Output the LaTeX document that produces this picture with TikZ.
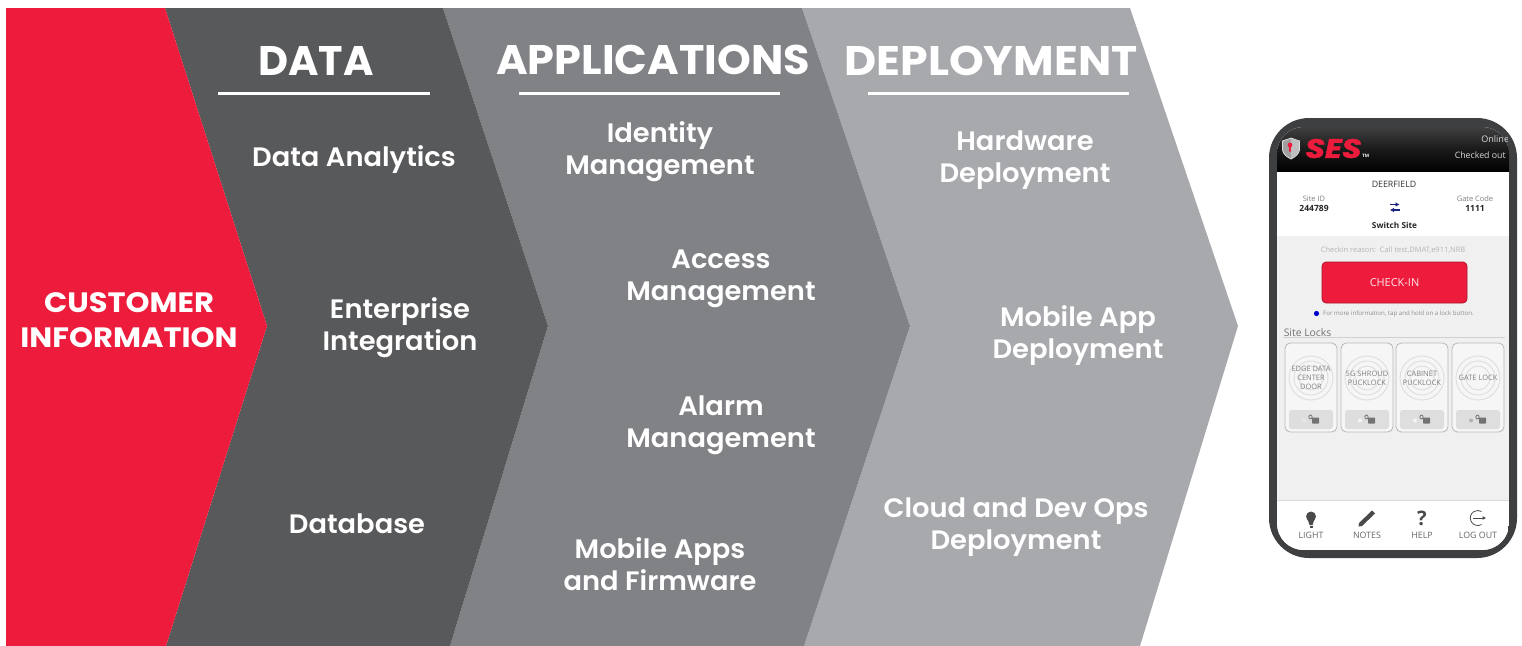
\documentclass[tikz,border=0pt]{standalone}
\usepackage{fontspec}
\usetikzlibrary{arrows.meta}
\setmainfont{Open Sans}
\newfontfamily\headfont{Poppins Bold}
\newfontfamily\bodyfont{Poppins SemiBold}
\newfontfamily\logofont{Poppins}[ItalicFont=* Bold Italic,ItalicFeatures={FakeBold=1.5}]
\definecolor{cred}{HTML}{ED1C3C}
\definecolor{cdark}{HTML}{58595B}
\definecolor{cmid}{HTML}{808285}
\definecolor{clight}{HTML}{A7A9AC}
\definecolor{phonerim}{HTML}{3E3F41}
\definecolor{screengray}{HTML}{F0F0F0}
\definecolor{faint}{HTML}{B4B4B4}
\definecolor{iconcol}{HTML}{4A4A4A}
\definecolor{swapblue}{HTML}{1A237E}
\tikzset{
  head/.style={text=white,font=\headfont\fontsize{31}{34}\selectfont,inner sep=0pt},
  body/.style={text=white,font=\bodyfont\fontsize{20}{24}\selectfont,align=center,inner sep=0pt,xscale=1.025},
  lead/.style={text=white,font=\headfont\fontsize{21}{26}\selectfont,align=center,inner sep=0pt,xscale=1.09},
  rulewhite/.style={draw=white,line width=1.9pt},
  ui/.style={inner sep=0pt,align=center},
  lockcap/.style={ui,text=black!50,font=\fontsize{5.6}{6.8}\selectfont},
  tabcap/.style={ui,text=iconcol!85,font=\fontsize{6.6}{8}\selectfont},
}
\begin{document}
\begin{tikzpicture}[x=0.75pt,y=-0.75pt]
\useasboundingbox (0,0) rectangle (1522,646);
% chevrons
\fill[clight] (802,8)--(1130,8)--(1238,326)--(1140,646)--(804,646)--(910,326)--cycle;
\fill[cmid] (443,8)--(802,8)--(910,326)--(804,646)--(450,646)--(548,326)--cycle;
\fill[cdark] (165,8)--(443,8)--(548,326)--(450,646)--(166,646)--(267,326)--cycle;
\fill[cred] (6,8)--(165,8)--(267,326)--(166,646)--(6,646)--cycle;
% headings
\node[head] (hdata) at (316,61) {DATA};
\node[head,xscale=1.04] (happs) at (653,60) {APPLICATIONS};
\node[head,xscale=1.07] (hdep) at (991,61) {DEPLOYMENT};
\draw[rulewhite] (218,93.5)--(430,93.5);
\draw[rulewhite] (519,93.5)--(780,93.5);
\draw[rulewhite] (868,93.5)--(1129,93.5);
\node[lead] (cust) at (129,320) {CUSTOMER\\INFORMATION};
% column texts
\node[body] (d1) at (354,160) {Data Analytics};
\node[body] (d2) at (400,328) {Enterprise\\Integration};
\node[body] (d3) at (357,524) {Database};
\node[body] (a1) at (660,152) {Identity\\Management};
\node[body] (a2) at (721,279) {Access\\Management};
\node[body] (a3) at (721,425) {Alarm\\Management};
\node[body] (a4) at (660,564) {Mobile Apps\\and Firmware};
\node[body] (p1) at (1025,160) {Hardware\\Deployment};
\node[body] (p2) at (1078,336) {Mobile App\\Deployment};
\node[body] (p3) at (1016,527) {Cloud and Dev Ops\\Deployment};
% phone
\fill[phonerim,rounded corners=30] (1269,118) rectangle (1517,558);
\begin{scope}
\path[clip,rounded corners=20] (1277,127) rectangle (1509,550);
\fill[screengray] (1277,127) rectangle (1509,550);
\shade[top color=black!75,bottom color=black,middle color=black!90] (1277,127) rectangle (1509,172);
\fill[white] (1277,172) rectangle (1509,236);
\fill[white] (1277,500) rectangle (1509,550);
\draw[black!15,line width=0.5pt] (1277,500)--(1509,500);
\end{scope}
% shield logo
\fill[gray!75,draw=gray!25,line width=0.6pt] (1282.5,141) .. controls (1286,140) and (1288,139) .. (1291,138) .. controls (1294,139) and (1296,140) .. (1299.5,141) -- (1299.5,150) .. controls (1299,154) and (1295,157) .. (1291,159) .. controls (1287,157) and (1283,154) .. (1282.5,150) -- cycle;
\fill[black!25] (1291,138.8) .. controls (1294,139.6) and (1296,140.6) .. (1298.8,141.5) -- (1298.8,150) .. controls (1298.4,153.6) and (1295,156.4) .. (1291,158.2) -- cycle;
\fill[cred] (1290,145) circle[radius=2.4];
\fill[cred] (1289.2,146)--(1290.8,146)--(1291,151.5)--(1289,151.5)--cycle;
\node[ui,text=cred,font=\logofont\itshape\fontsize{20}{20}\selectfont,xscale=1.18] (logo) at (1333.5,148.5) {SES};
\node[ui,text=white,font=\bfseries\fontsize{3.4}{4}\selectfont,anchor=west] (tm) at (1362,156) {TM};
\begin{scope}
\clip (1470,130) rectangle (1507,146);
\node[ui,text=white!85!black,anchor=west,font=\fontsize{6.8}{8}\selectfont] (online) at (1481,139) {Online};
\end{scope}
\node[ui,text=white!85!black,anchor=east,font=\fontsize{6.6}{8}\selectfont] (checked) at (1506,155) {Checked out};
% site info
\node[ui,text=black!80,font=\fontsize{6.6}{8}\selectfont] (site) at (1394,184) {DEERFIELD};
\node[ui,text=gray,font=\fontsize{5.6}{7}\selectfont] (sidl) at (1314,199) {Site ID};
\node[ui,text=black!85,font=\bfseries\fontsize{6.4}{7}\selectfont] (sidv) at (1314,208) {244789};
\node[ui,text=gray,font=\fontsize{5.6}{7}\selectfont] (gcl) at (1475,199) {Gate Code};
\node[ui,text=black!85,font=\bfseries\fontsize{6.4}{7}\selectfont] (gcv) at (1475,208) {1111};
\draw[swapblue,line width=1pt,-{Latex[length=3pt,width=3.6pt]}] (1390,204.5)--(1399.5,204.5);
\draw[swapblue,line width=1pt,-{Latex[length=3pt,width=3.6pt]}] (1399.5,210)--(1390,210);
\node[ui,text=black!85,font=\bfseries\fontsize{6.2}{7}\selectfont] (switch) at (1394.5,225) {Switch Site};
% check-in
\node[ui,text=faint,font=\fontsize{5.6}{7}\selectfont] (reason) at (1393,250) {Checkin reason:\ \ Call test,DMAT,e911,NRB};
\node[draw=cred!70!black,line width=0.5pt,fill=cred,rounded corners=3,minimum width=108.75pt,minimum height=30.75pt,inner sep=0pt,text=white!90!cred,font=\fontsize{8.2}{10}\selectfont] (checkin) at (1394.5,282.5) {CHECK-IN};
\fill[blue!80!black] (1316.5,313.5) circle[radius=2.6];
\node[ui,text=gray!90,font=\fontsize{4.6}{6}\selectfont] (info) at (1398.5,313.5) {For more information, tap and hold on a lock button.};
\node[ui,text=gray!90!black,anchor=west,font=\fontsize{7.8}{9}\selectfont] (locks) at (1283.5,333) {Site Locks};
\draw[black!18,line width=0.5pt] (1283,337.5)--(1505,337.5);
% lock cards
\foreach \n/\cx/\dot/\lab in {1/1311/9/{EDGE DATA\\CENTER\\DOOR},2/1367/4/{5G SHROUD\\PUCKLOCK},3/1422/4/{CABINET\\PUCKLOCK},4/1478/30/{GATE LOCK}}{
  \draw[black!28,fill=screengray!60!white,rounded corners=4,line width=0.6pt] (\cx-26,343) rectangle (\cx+26,432);
  \foreach \r in {22,17,12}{\draw[black!12,line width=0.8pt] (\cx,378) circle[radius=\r];}
  \node[lockcap] (card\n) at (\cx,378) {\lab};
  \fill[black!13,rounded corners=2] (\cx-22,410) rectangle (\cx+22,429);
  \fill[black!55,rounded corners=0.4] (\cx+1,417.5) rectangle (\cx+8,423.5);
  \draw[black!55,line width=0.6pt] (\cx-0.5,417) circle[x radius=1.6,y radius=2];
  \fill[black!\dot] (\cx-7,420.5) circle[radius=2];
}
% tab bar icons
\fill[iconcol] (1311,516.5) circle[radius=5];
\fill[iconcol] (1307.5,519)--(1314.5,519)--(1312.5,525)--(1309.5,525)--cycle;
\fill[iconcol] (1309.5,525.5) rectangle (1312.5,527.5);
\fill[iconcol] (1359,523)--(1358.5,526.5)--(1362,526)--(1375,513.5)--(1372,510.5)--cycle;
\node[ui,text=iconcol,font=\bfseries\fontsize{15}{16}\selectfont] (help) at (1422,518.5) {?};
\draw[iconcol,line width=0.6pt] (1481.5,524.5) arc[start angle=60,end angle=300,radius=7.5];
\draw[iconcol,line width=0.6pt,-{Latex[length=2.5pt,width=3pt]}] (1473,518)--(1486,518);
\node[tabcap] (t1) at (1311,535) {LIGHT};
\node[tabcap] (t2) at (1367,535) {NOTES};
\node[tabcap] (t3) at (1422,535) {HELP};
\node[tabcap] (t4) at (1478,535) {LOG OUT};
\end{tikzpicture}
\end{document}
